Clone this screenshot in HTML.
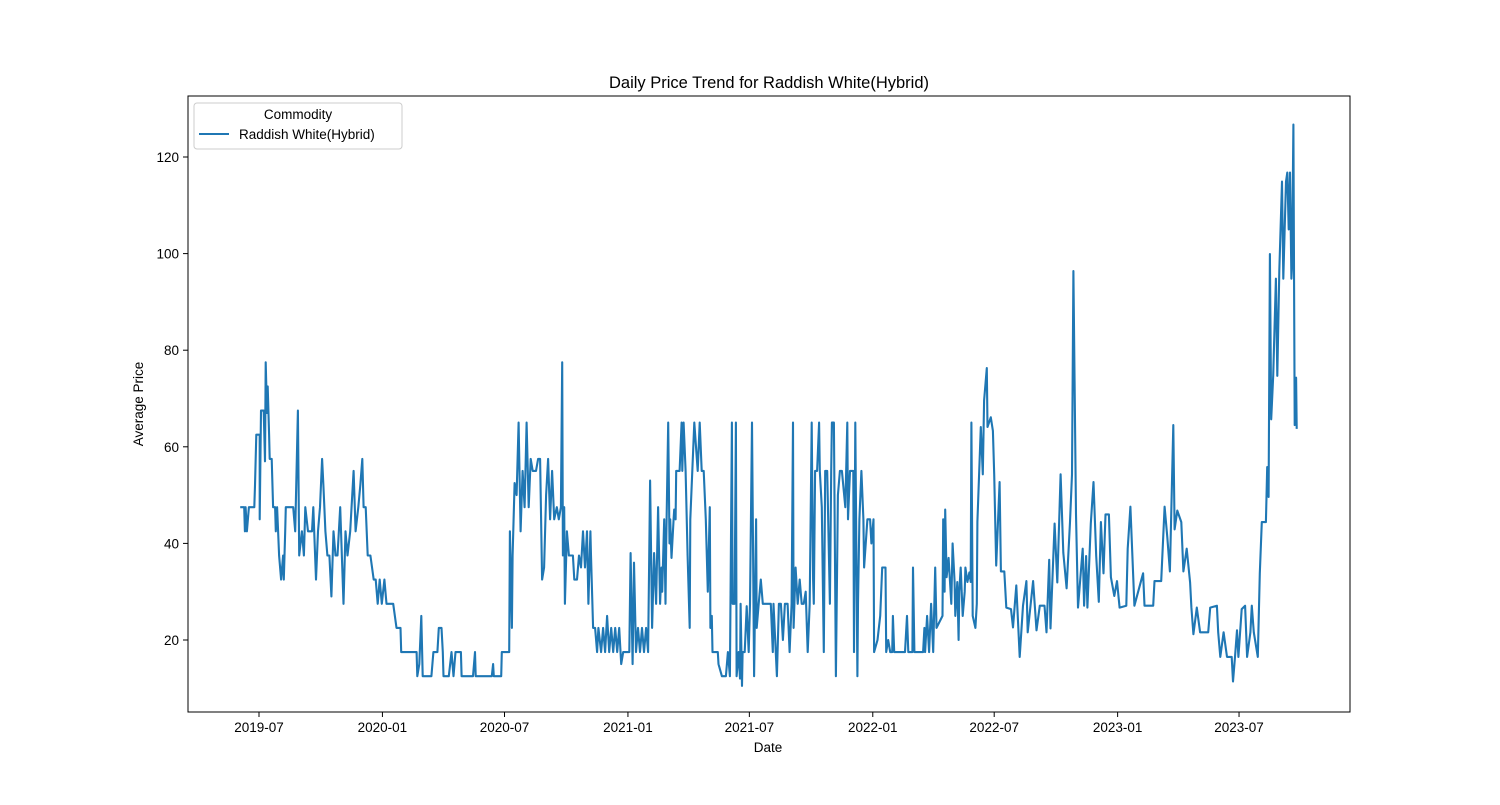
<!DOCTYPE html>
<html><head><meta charset="utf-8"><style>
body{margin:0;background:#fff;}
svg text{font-family:"Liberation Sans","DejaVu Sans",sans-serif;fill:#000;}
</style></head><body>
<svg id="chart" width="1500" height="800" xmlns="http://www.w3.org/2000/svg">
<rect width="1500" height="800" fill="#fff"/>
<text x="769" y="88" font-size="16.5" text-anchor="middle">Daily Price Trend for Raddish White(Hybrid)</text>
<g id="axes"></g>
<path id="line" fill="none" stroke="#1f77b4" stroke-width="2.1" stroke-linejoin="round"/>
<rect x="188" y="96" width="1162" height="616" fill="none" stroke="#000" stroke-width="1"/>
<text x="768" y="752" font-size="13.5" text-anchor="middle">Date</text>
<text transform="translate(143,404) rotate(-90)" font-size="13.5" text-anchor="middle">Average Price</text>
<g>
<rect x="194" y="103" width="208" height="46" rx="3" fill="#fff" stroke="#ccc"/>
<text x="298" y="119" font-size="13.5" text-anchor="middle">Commodity</text>
<line x1="199" y1="134" x2="229" y2="134" stroke="#1f77b4" stroke-width="1.9"/>
<text x="239" y="139" font-size="13.5">Raddish White(Hybrid)</text>
</g>
</svg>
<script>
// days since 2019-07-01
const days=[-28,-22,-21,-20,-18,-15,-7,-6,-4,1,1,3,7,9,10,12,13,15,16,19,21,24,25,27,30,33,36,37,39,40,43,51,54,58,60,64,67,69,73,79,81,85,88,91,94,96,99,102,105,108,111,114,117,121,126,129,132,136,141,144,148,151,154,156,159,162,166,171,174,177,180,183,187,190,200,205,211,212,235,236,239,242,244,257,260,266,268,272,274,275,283,287,290,293,301,302,319,322,323,347,349,350,361,362,373,374,377,378,381,384,387,390,393,396,399,402,405,408,413,416,419,422,425,428,431,434,437,440,444,447,450,452,453,455,456,459,462,468,470,474,477,480,483,486,489,491,494,495,498,501,504,506,510,513,516,519,522,525,528,531,534,537,540,543,549,552,
554,557,559,562,565,568,571,574,577,580,583,586,589,592,595,598,600,601,604,606,607,610,612,613,615,618,619,621,622,627,630,631,633,636,639,642,643,646,649,654,657,660,663,666,669,672,673,675,676,681,684,685,690,696,699,702,705,706,709,711,712,715,717,718,720,721,724,727,730,732,735,738,741,742,745,748,751,755,760,763,766,767,772,775,778,781,784,788,791,794,796,797,800,803,806,809,812,815,818,821,824,826,827,829,832,835,836,839,842,844,847,851,853,854,857,860,863,866,869,874,877,878,881,886,887,889,892,893,895,898,901,902,907,911,913,916,917,922,926,929,934,935,938,941,944,945,947,963,966,968,974,975,977,990,992,993,996,999,1002,1005,1008,1010,1019,1020,1022,1023,1025,1028,1031,1032,1034,1037,1038,1041,1043,1044,1046,1049,1052,1053,1056,1059,1061,1062,
1064,1068,1070,1071,1076,1079,1081,1085,1086,1091,1094,1096,1099,1104,1106,1111,1114,1121,1124,1129,1134,1139,1144,1146,1154,1159,1164,1171,1174,1178,1180,1186,1190,1195,1199,1204,1209,1212,1214,1218,1221,1228,1230,1233,1235,1240,1244,1248,1252,1255,1259,1262,1267,1270,1275,1279,1283,1293,1295,1299,1305,1318,1320,1333,1335,1345,1350,1354,1358,1363,1365,1369,1375,1378,1383,1388,1390,1393,1398,1403,1415,1418,1428,1430,1433,1438,1443,1450,1452,1455,1458,1460,1465,1470,1473,1478,1480,1483,1489,1492,1495,1501,1503,1505,1507,1509,1512,1516,1518,1521,1525,1527,1531,1533,1535,1537,1539,1540,1542,1543,1544,1546,1547];
const prices=[47.5,47.5,42.5,47.5,42.5,47.5,47.5,52,62.5,62.5,45,67.5,67.5,57,77.5,67,72.5,62.5,57.5,57.5,47.5,47.5,42.5,47.5,37.5,32.5,37.5,32.5,42.5,47.5,47.5,47.5,42.5,67.5,37.5,42.5,37.5,47.5,42.5,42.5,47.5,32.5,42.5,47.5,57.5,52,42.5,37.5,37.5,29,42.5,37.5,37.5,47.5,27.5,42.5,37.5,42.5,55,42.5,47.5,52,57.5,47.5,47.5,37.5,37.5,32.5,32.5,27.5,32.5,27.5,32.5,27.5,27.5,22.5,22.5,17.5,17.5,12.5,15,25,12.5,12.5,17.5,17.5,22.5,22.5,17.5,12.5,12.5,17.5,12.5,17.5,17.5,12.5,12.5,17.5,12.5,12.5,15,12.5,12.5,17.5,17.5,42.5,22.5,37.5,52.5,50,65,42.5,55,47.5,65,47.5,57.5,55,55,57.5,57.5,32.5,35,50,57.5,45,55,45,47.5,45,47.5,77.5,37.5,47.5,27.5,42.5,37.5,37.5,32.5,32.5,37.5,35,42.5,35,42.5,27.5,42.5,37.5,22.5,22.5,17.5,22.5,17.5,22.5,17.5,25,17.5,22.5,17.5,22.5,17.5,22.5,15,17.5,17.5,17.5,
38,15,36,17.5,22.5,17.5,22.5,17.5,22.5,17.5,53,22.5,38,27.5,47.5,27.5,35,30,45,27.5,40,65,40,45,37,45,47,45,55,55,65,55,65,55,37.5,22.5,45,55,65,55,65,55,55,45,30,47.5,22.5,25,17.5,17.5,17.5,15,12.5,12.5,17.5,12.5,65,27.5,27.5,65,12.5,17.5,12,27.5,10.5,17.5,17.5,27,17.5,27.5,65,12.5,45,22.5,27.5,32.5,27.5,27.5,27.5,27.5,17.5,27.5,12.5,27.5,27.5,20,27.5,27.5,17.5,27.5,65,22.5,35,27.5,32.5,27.5,27.5,30,17.5,27.5,65,32.5,27.5,55,55,65,55,47.5,17.5,55,55,27.5,55,65,65,12.5,50,55,55,47.5,65,45,55,55,17.5,65,12.5,27.5,45,55,45,35,45,45,40,45,17.5,20,25,35,35,17.5,20,17.5,17.5,25,17.5,17.5,25,17.5,17.5,35,17.5,17.5,22.5,17.5,25,17.5,27.5,17.5,35,22.5,25,45,30,47,33,37,30,27.5,40,32,25,32,20,30,35,25,30,35,32,34,32,65,
25,22.5,27.5,44.5,64.1,54.3,69.6,76.3,64.1,66.1,63.3,54.3,35.4,52.7,34.2,34.2,26.7,26.4,22.6,31.3,16.5,27.1,32.2,21.6,32.2,22,27.1,27.1,21.6,36.6,22.4,44.1,31.9,54.3,38.1,30.7,44.4,54.3,96.4,46,26.7,38.9,27.1,37.4,26.7,44.1,52.7,37.4,27.9,44.4,33.8,46,46,33,29.1,32.2,26.7,27.1,38.9,47.6,27.1,33.8,27.1,27.1,32.2,32.2,47.6,41.3,34.2,64.5,42.9,46.8,44.4,34.2,38.9,31.9,26.7,21.2,26.7,21.6,21.6,26.7,27.1,21.6,16.5,21.6,16.5,16.5,11.4,16.5,22,16.5,26.4,27.1,16.5,21.6,27.1,21.6,16.5,33.8,44.4,44.4,55.8,49.6,99.9,65.7,74.7,94.8,74.7,96.4,114.9,94.8,114.9,116.8,105,116.8,94.8,97.2,126.7,97.2,64.5,74.3,63.7];
const xTickDays=[0,184,366,550,731,915,1096,1280,1461];
const xTickLabels=["2019-07","2020-01","2020-07","2021-01","2021-07","2022-01","2022-07","2023-01","2023-07"];
const yTicks=[20,40,60,80,100,120];

const X=d=>259+d*0.6708;
const Y=v=>640-(v-20)*4.83;
const NS="http://www.w3.org/2000/svg";
const ax=document.getElementById('axes');
function mk(tag,attrs,parent){const e=document.createElementNS(NS,tag);for(const k in attrs)e.setAttribute(k,attrs[k]);parent.appendChild(e);return e;}
xTickDays.forEach((d,i)=>{
  const x=X(d);
  const t=mk('line',{x1:x,x2:x,y1:712,y2:717,stroke:'#000'},ax);
  
  
  const l=mk('text',{x:x,y:732,'font-size':13.5,'text-anchor':'middle'},ax);
  l.textContent=xTickLabels[i];
  
  
});
yTicks.forEach(v=>{
  const y=Y(v);
  const t=mk('line',{x1:183,x2:188,y1:y,y2:y,stroke:'#000'},ax);
  
  
  const l=mk('text',{x:179,y:y+5,'font-size':13.5,'text-anchor':'end'},ax);
  l.textContent=v;
  
  
});
let d='';
for(let i=0;i<days.length;i++){d+=(i?'L':'M')+X(days[i]).toFixed(1)+','+Y(prices[i]).toFixed(1);}
document.getElementById('line').setAttribute('d',d);
</script>
</body></html>
